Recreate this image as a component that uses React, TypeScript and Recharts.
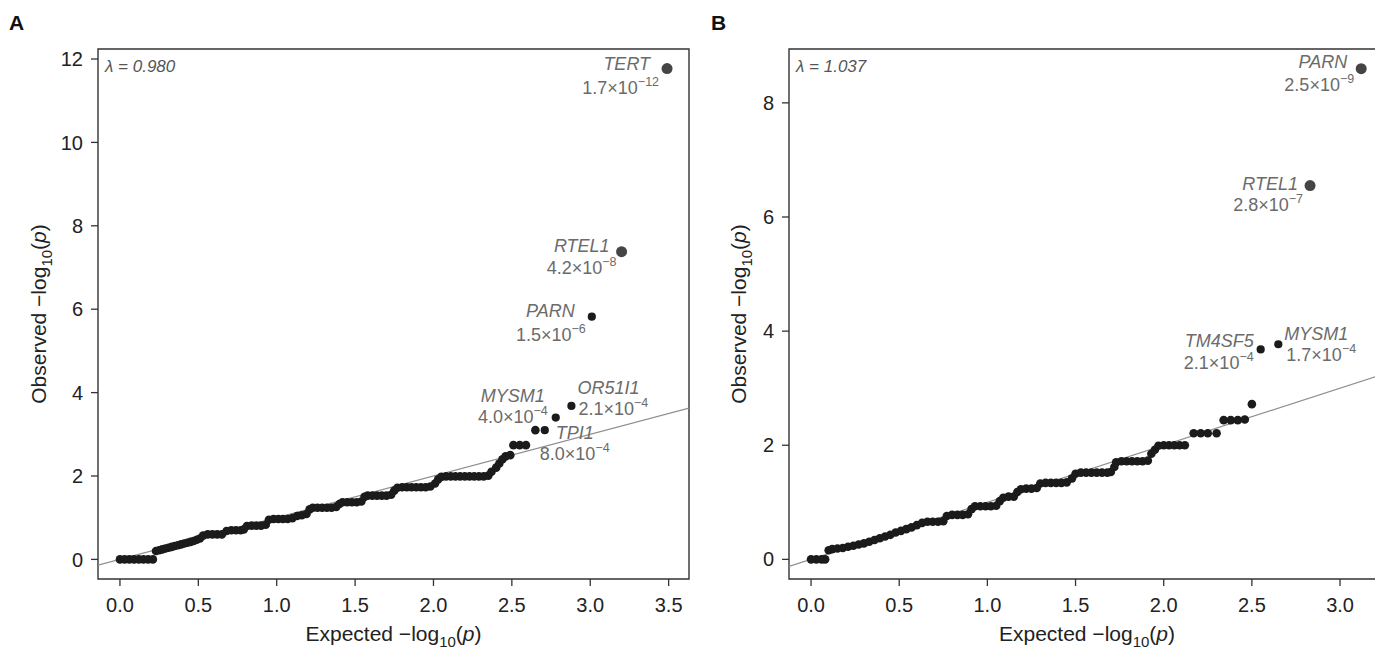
import React from 'react';
import { ScatterChart, Scatter, XAxis, YAxis, ReferenceLine, ReferenceArea } from 'recharts';

const FONT = '"Liberation Sans", Arial, Helvetica, sans-serif';

// ---------- Panel A data ----------
const bulkExpectedA = [
  0, 0.03, 0.06, 0.09, 0.12, 0.15, 0.18, 0.21,
  0.23, 0.25, 0.27, 0.29, 0.31, 0.33, 0.35, 0.37, 0.39, 0.41, 0.43, 0.45, 0.47, 0.49, 0.51,
  0.53, 0.56, 0.59, 0.62, 0.65,
  0.68, 0.71, 0.74, 0.77, 0.79,
  0.81, 0.84, 0.87, 0.90, 0.93,
  0.95, 0.98, 1.01, 1.04, 1.07, 1.10,
  1.13, 1.16, 1.19,
  1.21, 1.23, 1.26, 1.29, 1.32, 1.35, 1.38,
  1.40, 1.42, 1.45, 1.48, 1.51, 1.54,
  1.56, 1.58, 1.61, 1.64, 1.67, 1.70, 1.73,
  1.75, 1.77, 1.80, 1.83, 1.86, 1.89, 1.92, 1.95, 1.98,
  2.01, 2.03,
  2.05, 2.08, 2.11, 2.14, 2.17, 2.20, 2.23, 2.26, 2.29, 2.32, 2.35,
  2.37, 2.40, 2.42, 2.44, 2.46, 2.49,
  2.51, 2.55, 2.59,
  2.65,
];
const bulkObservedA = [
  0, 0, 0, 0, 0, 0, 0, 0,
  0.20, 0.22, 0.24, 0.26, 0.28, 0.30, 0.32, 0.34, 0.36, 0.38, 0.40, 0.42, 0.44, 0.47, 0.50,
  0.57, 0.60, 0.60, 0.60, 0.60,
  0.68, 0.70, 0.70, 0.70, 0.72,
  0.80, 0.81, 0.81, 0.81, 0.83,
  0.95, 0.97, 0.97, 0.97, 0.97, 0.99,
  1.04, 1.06, 1.09,
  1.20, 1.24, 1.24, 1.24, 1.24, 1.24, 1.26,
  1.33, 1.37, 1.37, 1.37, 1.37, 1.39,
  1.50, 1.53, 1.53, 1.53, 1.53, 1.53, 1.55,
  1.65, 1.72, 1.73, 1.73, 1.73, 1.73, 1.73, 1.73, 1.75,
  1.82, 1.92,
  1.98, 1.99, 1.99, 1.99, 1.99, 1.99, 1.99, 1.99, 1.99, 1.99, 2.01,
  2.10, 2.20, 2.30, 2.40, 2.47, 2.50,
  2.74, 2.74, 2.74,
  3.10,
];
const hitGenesA = ['TERT', 'RTEL1', 'PARN', 'OR51I1', 'MYSM1', 'TPI1'];
const hitExpectedA = [3.49, 3.20, 3.01, 2.88, 2.78, 2.71];
const hitObservedA = [11.77, 7.38, 5.82, 3.68, 3.40, 3.10];
const hitMantissaA = ['1.7', '4.2', '1.5', '2.1', '4.0', '8.0'];
const hitExponentA = ['\u221212', '\u22128', '\u22126', '\u22124', '\u22124', '\u22124'];
const xTicksA = [0, 0.5, 1.0, 1.5, 2.0, 2.5, 3.0, 3.5];
const yTicksA = [0, 2, 4, 6, 8, 10, 12];
const lambdaA = '0.980';

// ---------- Panel B data ----------
const bulkExpectedB = [
  0, 0.03, 0.06, 0.08,
  0.10, 0.12, 0.15, 0.18, 0.21, 0.24, 0.27, 0.30, 0.33, 0.36, 0.39, 0.42, 0.45, 0.48, 0.51, 0.54, 0.57, 0.60,
  0.63, 0.66, 0.69, 0.72, 0.75,
  0.77, 0.80, 0.83, 0.86, 0.89,
  0.91, 0.93, 0.96, 0.99, 1.02, 1.05,
  1.07, 1.09, 1.12, 1.15,
  1.17, 1.19, 1.22, 1.25, 1.28,
  1.30, 1.33, 1.36, 1.39, 1.42, 1.45,
  1.48, 1.50, 1.53, 1.56, 1.59, 1.62, 1.65, 1.68, 1.70,
  1.72, 1.73, 1.76, 1.79, 1.82, 1.85, 1.88, 1.91,
  1.93, 1.95,
  1.97, 2.00, 2.03, 2.06, 2.09, 2.12,
  2.17, 2.21, 2.25, 2.30,
  2.34, 2.38, 2.42, 2.46,
  2.50,
];
const bulkObservedB = [
  0, 0, 0, 0,
  0.16, 0.18, 0.19, 0.20, 0.22, 0.24, 0.26, 0.28, 0.31, 0.34, 0.37, 0.40, 0.43, 0.47, 0.50, 0.53, 0.56, 0.60,
  0.64, 0.66, 0.66, 0.66, 0.67,
  0.76, 0.78, 0.78, 0.78, 0.79,
  0.88, 0.93, 0.93, 0.93, 0.93, 0.94,
  1.02, 1.08, 1.10, 1.10,
  1.18, 1.23, 1.24, 1.24, 1.25,
  1.33, 1.34, 1.34, 1.34, 1.34, 1.35,
  1.42, 1.50, 1.52, 1.52, 1.52, 1.52, 1.52, 1.52, 1.53,
  1.62, 1.70, 1.72, 1.72, 1.72, 1.72, 1.72, 1.73,
  1.85, 1.92,
  1.99, 2.00, 2.00, 2.00, 2.00, 2.00,
  2.21, 2.21, 2.21, 2.21,
  2.44, 2.44, 2.44, 2.45,
  2.72,
];
const hitGenesB = ['PARN', 'RTEL1', 'TM4SF5', 'MYSM1'];
const hitExpectedB = [3.12, 2.83, 2.55, 2.65];
const hitObservedB = [8.60, 6.55, 3.68, 3.77];
const hitMantissaB = ['2.5', '2.8', '2.1', '1.7'];
const hitExponentB = ['\u22129', '\u22127', '\u22124', '\u22124'];
const xTicksB = [0, 0.5, 1.0, 1.5, 2.0, 2.5, 3.0];
const yTicksB = [0, 2, 4, 6, 8];
const lambdaB = '1.037';

// ---------- Styles (label offsets relative to each highlighted point) ----------
type LabelStyle = {
  big: boolean;
  name: [number, number, 'start' | 'end'];
  val: [number, number, 'start' | 'end'];
};
const labelStylesA: Record<string, LabelStyle> = {
  TERT: { big: true, name: [-17, 1, 'end'], val: [-8, 25, 'end'] },
  RTEL1: { big: true, name: [-12, 0, 'end'], val: [-5, 22, 'end'] },
  PARN: { big: false, name: [-17, 0, 'end'], val: [-6, 24, 'end'] },
  OR51I1: { big: false, name: [6, -12, 'start'], val: [7, 9, 'start'] },
  MYSM1: { big: false, name: [-11, -16, 'end'], val: [-8, 5, 'end'] },
  TPI1: { big: false, name: [11, 9, 'start'], val: [-5, 30, 'start'] },
};
const labelStylesB: Record<string, LabelStyle> = {
  PARN: { big: true, name: [-14, -1, 'end'], val: [-7, 22, 'end'] },
  RTEL1: { big: true, name: [-12, 4, 'end'], val: [-7, 25, 'end'] },
  TM4SF5: { big: false, name: [-7, -2, 'end'], val: [-7, 20, 'end'] },
  MYSM1: { big: false, name: [6, -4, 'start'], val: [8, 17, 'start'] },
};

const LABEL_GRAY = '#6b6b6b';
const DOT = '#1b1b1b';
const BIG_DOT = '#454545';
const AXIS = '#333';
const LABEL_SIZE = 18;

const bulkShape = (p: any) => <circle cx={p.cx} cy={p.cy} r={4.3} fill={DOT} />;

const makeHitShape = (styles: Record<string, LabelStyle>) => (p: any) => {
  const { cx, cy, payload } = p;
  const st = styles[payload.gene];
  return (
    <g>
      <circle cx={cx} cy={cy} r={st.big ? 5.5 : 4.1} fill={st.big ? BIG_DOT : DOT} />
      <text
        x={cx + st.name[0]}
        y={cy + st.name[1]}
        textAnchor={st.name[2]}
        fill={LABEL_GRAY}
        fontSize={LABEL_SIZE}
        fontStyle="italic"
        fontFamily={FONT}
      >
        {payload.gene}
      </text>
      <text
        x={cx + st.val[0]}
        y={cy + st.val[1]}
        textAnchor={st.val[2]}
        fill={LABEL_GRAY}
        fontSize={LABEL_SIZE}
        fontFamily={FONT}
      >
        {payload.mant}
        {'\u00d710'}
        <tspan dy={-8} fontSize={12.5}>
          {payload.exp}
        </tspan>
      </text>
    </g>
  );
};

type PanelProps = {
  left: number;
  width: number;
  yAxisWidth: number;
  bulkX: number[];
  bulkY: number[];
  genes: string[];
  hitX: number[];
  hitY: number[];
  mant: string[];
  exps: string[];
  xTicks: number[];
  yTicks: number[];
  xDomain: [number, number];
  yDomain: [number, number];
  lambda: string;
  styles: Record<string, LabelStyle>;
};

const XTitle = (p: any) => {
  const vb = p.viewBox;
  return (
    <text x={vb.x + vb.width / 2} y={vb.y + 62} textAnchor="middle" fill="#222" fontSize={21} fontFamily={FONT}>
      Expected {'\u2212'}log
      <tspan dy={6} fontSize={15}>10</tspan>
      <tspan dy={-6}>(</tspan>
      <tspan fontStyle="italic">p</tspan>
      <tspan>)</tspan>
    </text>
  );
};

const YTitle = (p: any) => {
  const vb = p.viewBox;
  const x = 46;
  const y = vb.y + vb.height / 2;
  return (
    <text
      x={x}
      y={y}
      transform={`rotate(-90 ${x} ${y})`}
      textAnchor="middle"
      fill="#222"
      fontSize={21}
      fontFamily={FONT}
    >
      Observed {'\u2212'}log
      <tspan dy={6} fontSize={15}>10</tspan>
      <tspan dy={-6}>(</tspan>
      <tspan fontStyle="italic">p</tspan>
      <tspan>)</tspan>
    </text>
  );
};

function Panel(props: PanelProps) {
  const bulk = props.bulkX.map((x, i) => ({ x, y: props.bulkY[i] }));
  const hits = props.genes.map((g, i) => ({
    x: props.hitX[i],
    y: props.hitY[i],
    gene: g,
    mant: props.mant[i],
    exp: props.exps[i],
  }));
  const [x0, x1] = props.xDomain;
  const [y0, y1] = props.yDomain;
  const tickStyle = { fill: '#222', fontSize: 20, fontFamily: FONT };
  return (
    <div style={{ position: 'absolute', left: props.left, top: 0 }}>
      <ScatterChart width={props.width} height={649} margin={{ top: 49, right: 20, bottom: 0, left: 0 }}>
        <XAxis
          type="number"
          dataKey="x"
          domain={props.xDomain}
          allowDataOverflow
          ticks={props.xTicks}
          tickFormatter={(v: number) => v.toFixed(1)}
          axisLine={false}
          tickLine={{ stroke: AXIS, strokeWidth: 1.3 }}
          tickSize={7}
          tickMargin={12}
          tick={tickStyle}
          height={70}
          interval={0}
          label={{ content: XTitle }}
        />
        <YAxis
          type="number"
          dataKey="y"
          domain={props.yDomain}
          allowDataOverflow
          ticks={props.yTicks}
          axisLine={false}
          tickLine={{ stroke: AXIS, strokeWidth: 1.3 }}
          tickSize={7}
          tickMargin={8}
          tick={tickStyle}
          width={props.yAxisWidth}
          interval={0}
          label={{ content: YTitle }}
        />
        <ReferenceArea
          x1={x0}
          x2={x1}
          y1={y0}
          y2={y1}
          fill="none"
          fillOpacity={0}
          stroke={AXIS}
          strokeWidth={1.4}
          ifOverflow="visible"
          label={{
            content: (p: any) => (
              <text
                x={p.viewBox.x + 7}
                y={p.viewBox.y + 23}
                fill="#555"
                fontSize={17}
                fontStyle="italic"
                fontFamily={FONT}
              >
                {'\u03bb = ' + props.lambda}
              </text>
            ),
          }}
        />
        <Scatter data={bulk} isAnimationActive={false} shape={bulkShape} />
        <Scatter data={hits} isAnimationActive={false} shape={makeHitShape(props.styles)} />
        <ReferenceLine
          segment={[
            { x: x0, y: x0 },
            { x: Math.min(x1, y1), y: Math.min(x1, y1) },
          ]}
          stroke="#8f8f8f"
          strokeWidth={1.2}
          ifOverflow="hidden"
        />
      </ScatterChart>
    </div>
  );
}

export default function App() {
  return (
    <div
      style={{
        position: 'absolute',
        left: 0,
        top: 0,
        width: 1375,
        height: 649,
        overflow: 'hidden',
        background: '#fff',
      }}
    >
      <Panel
        left={0}
        width={709}
        yAxisWidth={98}
        bulkX={bulkExpectedA}
        bulkY={bulkObservedA}
        genes={hitGenesA}
        hitX={hitExpectedA}
        hitY={hitObservedA}
        mant={hitMantissaA}
        exps={hitExponentA}
        xTicks={xTicksA}
        yTicks={yTicksA}
        xDomain={[-0.14, 3.63]}
        yDomain={[-0.47, 12.24]}
        lambda={lambdaA}
        styles={labelStylesA}
      />
      <Panel
        left={700}
        width={705}
        yAxisWidth={89}
        bulkX={bulkExpectedB}
        bulkY={bulkObservedB}
        genes={hitGenesB}
        hitX={hitExpectedB}
        hitY={hitObservedB}
        mant={hitMantissaB}
        exps={hitExponentB}
        xTicks={xTicksB}
        yTicks={yTicksB}
        xDomain={[-0.125, 3.255]}
        yDomain={[-0.344, 8.944]}
        lambda={lambdaB}
        styles={labelStylesB}
      />
      <svg
        width={1375}
        height={649}
        style={{ position: 'absolute', left: 0, top: 0, pointerEvents: 'none' }}
      >
        <text x={9} y={30} fontSize={21} fontWeight="bold" fill="#111" fontFamily={FONT}>
          A
        </text>
        <text x={711} y={30} fontSize={21} fontWeight="bold" fill="#111" fontFamily={FONT}>
          B
        </text>
      </svg>
    </div>
  );
}
